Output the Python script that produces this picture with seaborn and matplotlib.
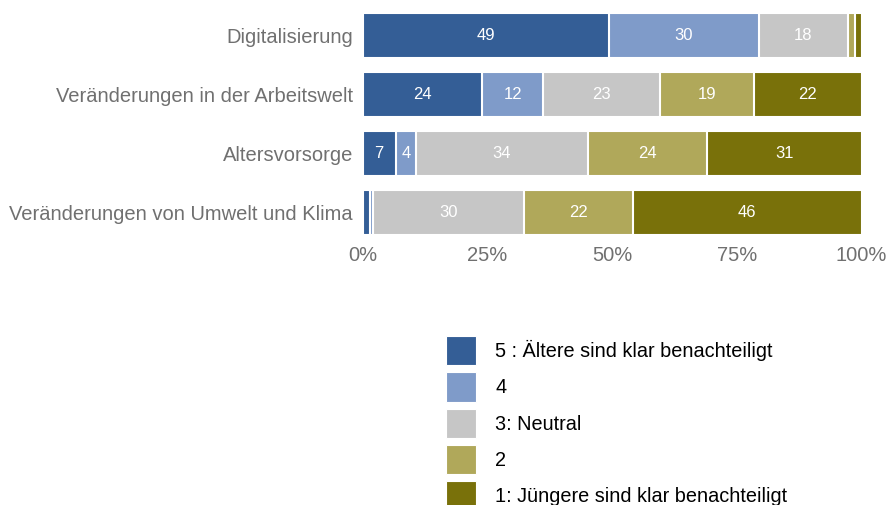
import numpy as np
import pandas as pd
import matplotlib
matplotlib.use("Agg")
import matplotlib.pyplot as plt
import seaborn as sns
from matplotlib.patches import Patch
from matplotlib.ticker import FuncFormatter

# Daten (Anteile in %)
themen = [
    "Digitalisierung",
    "Veränderungen in der Arbeitswelt",
    "Altersvorsorge",
    "Veränderungen von Umwelt und Klima",
]
stufen = [
    "5 : Ältere sind klar benachteiligt",
    "4",
    "3: Neutral",
    "2",
    "1: Jüngere sind klar benachteiligt",
]
s5 = [49.3, 24.0, 6.6, 1.4]
s4 = [30.1, 12.2, 4.1, 0.7]
s3 = [17.9, 23.3, 34.4, 30.2]
s2 = [1.4, 19.0, 24.0, 21.9]
s1 = [1.3, 21.5, 30.9, 45.8]
farben = ["#345e96", "#7f9bc9", "#c6c6c6", "#b0a85a", "#79710a"]

sns.set_theme(style="white")
plt.rcParams["font.family"] = ["Liberation Sans", "DejaVu Sans"]

werte = np.array([s5, s4, s3, s2, s1])
kumuliert = werte.cumsum(axis=0)

fig = plt.figure(figsize=(8.91, 5.05), dpi=100)
ax = fig.add_axes([0.407, 0.521, 0.560, 0.467])

# überlappende Balken: größte kumulierte Summe zuerst
for k in range(len(stufen) - 1, -1, -1):
    df = pd.DataFrame({"thema": themen, "wert": kumuliert[k]})
    sns.barplot(data=df, x="wert", y="thema", color=farben[k], orient="h",
                width=0.76, edgecolor="white", linewidth=1.5, saturation=1,
                ax=ax, order=themen)

# Beschriftungen in den Segmenten
for k in range(len(stufen)):
    for i in range(len(themen)):
        v = werte[k, i]
        if v >= 3:
            mitte = kumuliert[k, i] - v / 2
            ax.text(mitte, i, f"{v:.0f}", ha="center", va="center",
                    color="white", fontsize=12)

ax.set_xlim(0, 100)
ax.set_ylim(3.5, -0.5)
ax.set_xticks([0, 25, 50, 75, 100])
ax.xaxis.set_major_formatter(FuncFormatter(lambda x, p: f"{x:.0f}%"))
ax.set_xlabel("")
ax.set_ylabel("")
ax.tick_params(axis="both", length=0, labelsize=14.5, labelcolor="#707070")
ax.tick_params(axis="y", pad=7)
ax.tick_params(axis="x", pad=3)
for s in ax.spines.values():
    s.set_visible(False)

handles = [Patch(facecolor=c, edgecolor="white", linewidth=0.8, label=l)
           for c, l in zip(farben, stufen)]
fig.legend(handles=handles, loc="upper left", bbox_to_anchor=(0.501, 0.335),
           frameon=False, fontsize=14.3, handlelength=1.47, handleheight=1.9,
           labelspacing=0.35, handletextpad=1.0, borderpad=0, borderaxespad=0,
           labelcolor="black")

fig.savefig("out.png", dpi=100)
